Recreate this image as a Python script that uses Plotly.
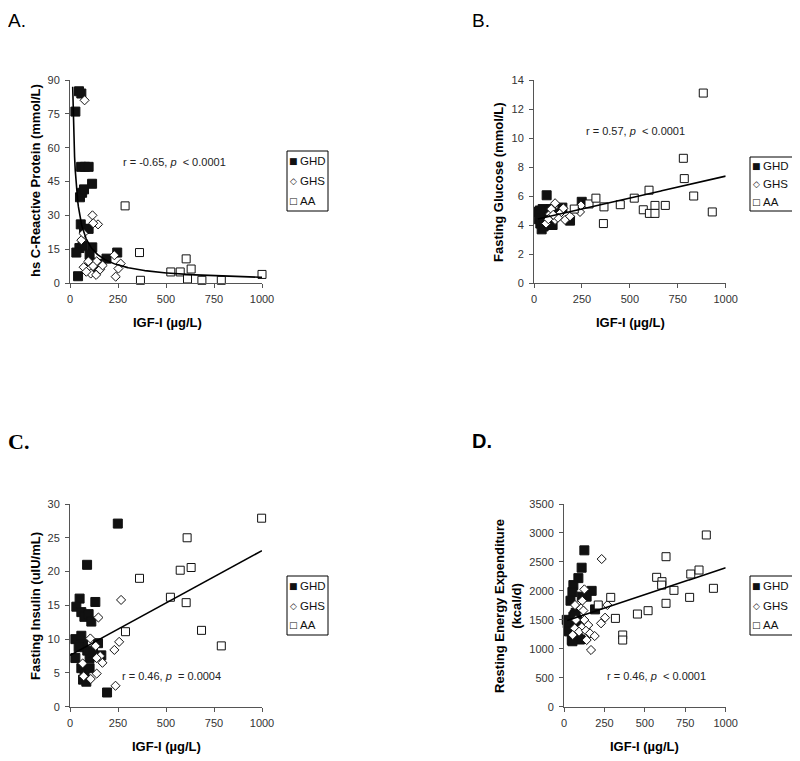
import numpy as np
import plotly.graph_objects as go

W, H = 800, 761
OFF = 8  # page body margin in the browser

# ---------------- Data ----------------
# Panel A: hs C-Reactive Protein vs IGF-I
ghd_a_x = [47, 59, 28, 58, 78, 97, 115, 52, 63, 73, 56, 73, 97, 49, 66, 116, 33, 246, 102, 190, 108, 155, 42, 125]
ghd_a_y = [85, 84, 76, 51.5, 51.5, 51.5, 44, 38, 40, 41.5, 26, 24, 24, 15.5, 16.5, 15.8, 13.5, 13.5, 12.5, 10.8, 9, 8.5, 3, 6]
ghs_a_x = [76, 117, 146, 121, 59, 70, 231, 264, 252, 238, 71, 96, 104, 108, 136, 139, 157, 170, 85, 120]
ghs_a_y = [81, 30, 26, 26.5, 19, 22, 12.3, 8.6, 6.4, 2.8, 7, 9.6, 6.4, 4.2, 3.6, 9.6, 6, 7.8, 5, 7.5]
aa_a_x = [287, 362, 367, 525, 574, 605, 631, 612, 687, 788, 1000]
aa_a_y = [34.2, 13.5, 1.2, 4.9, 4.9, 10.7, 6.2, 1.8, 1.2, 1.2, 3.8]
fit_a = {"a": 778.0, "b": -0.83, "xmin": 14, "xmax": 1000}   # power trend y = a*x^b

# Panel B: Fasting Glucose vs IGF-I
ghd_b_x = [22, 25, 30, 33, 38, 40, 45, 48, 50, 55, 58, 62, 66, 70, 75, 80, 85, 90, 97, 100, 110, 148, 188, 249]
ghd_b_y = [4.9, 4.4, 5.0, 4.1, 4.7, 3.7, 5.1, 4.3, 3.9, 4.8, 4.0, 5.0, 6.05, 4.5, 4.2, 4.9, 4.4, 5.1, 4.0, 4.6, 4.8, 5.2, 4.3, 5.6]
ghs_b_x = [63, 83, 90, 110, 110, 136, 153, 162, 188, 240, 245, 125, 75, 100]
ghs_b_y = [4.1, 4.75, 5.1, 5.5, 4.35, 4.8, 5.15, 4.35, 4.6, 4.9, 5.35, 4.5, 4.4, 4.7]
aa_b_x = [210, 287, 323, 362, 365, 450, 523, 570, 600, 602, 631, 631, 685, 779, 784, 833, 883, 930]
aa_b_y = [5.1, 5.45, 5.85, 4.1, 5.25, 5.4, 5.85, 5.05, 6.4, 4.8, 5.35, 4.8, 5.35, 8.6, 7.2, 6.0, 13.1, 4.9]
fit_b = {"intercept": 4.35, "slope": 0.00302, "xmin": 20, "xmax": 1000}

# Panel C: Fasting Insulin vs IGF-I
ghd_c_x = [249, 89, 50, 33, 132, 59, 75, 97, 111, 28, 59, 68, 146, 28, 102, 163, 59, 76, 68, 85, 102, 193, 90, 45, 120]
ghd_c_y = [27.1, 21.0, 16.0, 14.8, 15.5, 14.0, 13.3, 13.7, 12.6, 10.0, 10.5, 9.2, 9.4, 7.2, 7.2, 7.6, 5.7, 4.9, 4.0, 3.7, 5.7, 2.1, 8.3, 8.8, 8.0]
ghs_c_x = [266, 148, 106, 134, 157, 139, 169, 66, 139, 71, 108, 237, 231, 256]
ghs_c_y = [15.8, 13.2, 10.1, 9.0, 7.5, 7.2, 6.5, 6.4, 4.9, 4.5, 4.1, 3.1, 8.4, 9.6]
aa_c_x = [998, 610, 631, 574, 362, 523, 605, 289, 685, 788]
aa_c_y = [27.9, 25.0, 20.6, 20.2, 19.0, 16.2, 15.4, 11.1, 11.3, 9.0]
fit_c = {"intercept": 7.6, "slope": 0.0155, "xmin": 0, "xmax": 1000}

# Panel D: Resting Energy Expenditure vs IGF-I
ghd_d_x = [126, 109, 89, 58, 52, 171, 140, 40, 192, 17, 37, 27, 68, 58, 48, 88, 72, 110, 23, 80, 99, 31, 65, 52]
ghd_d_y = [2700, 2400, 2220, 2100, 1980, 2000, 1900, 1830, 1680, 1500, 1410, 1325, 1470, 1554, 1150, 1180, 1620, 1900, 1440, 1500, 1160, 1300, 1580, 1130]
ghs_d_x = [233, 126, 113, 105, 120, 68, 126, 74, 150, 109, 66, 93, 136, 161, 54, 190, 140, 167, 229, 254, 268]
ghs_d_y = [2550, 2026, 1830, 1698, 1660, 1756, 1497, 1497, 1410, 1370, 1353, 1295, 1312, 1266, 1238, 1220, 1151, 979, 1440, 1537, 1756]
aa_d_x = [880, 631, 573, 606, 604, 680, 784, 835, 924, 777, 631, 520, 454, 318, 363, 363, 289, 212]
aa_d_y = [2965, 2590, 2234, 2159, 2100, 2009, 2291, 2360, 2044, 1888, 1785, 1658, 1600, 1525, 1238, 1151, 1888, 1756]
fit_d = {"intercept": 1470, "slope": 0.93, "xmin": 20, "xmax": 1000}

groups = ["GHD", "GHS", "AA"]
legend_glyphs = ["\u25A0", "\u25C7", "\u25A1"]
x_ticks = [0, 250, 500, 750, 1000]

# ---------------- Helpers ----------------
def px(x):
    return (x - OFF) / W

def py(y):
    return 1 - (y - OFF) / H

SANS = "Liberation Sans, Arial, sans-serif"
AX_COL = "#555555"

marker_styles = {
    "GHD": dict(symbol="square", size=9, color="#111111", line=dict(color="#111111", width=1)),
    "GHS": dict(symbol="diamond", size=7, color="white", line=dict(color="#111111", width=1)),
    "AA": dict(symbol="square", size=8, color="white", line=dict(color="#111111", width=1)),
}

fig = go.Figure()

panels = [
    # suffix, data, fit, fit type, y range, dtick, x-domain px, y-domain px, legend box px (x0, x1, y0, y1)
    ("", (ghd_a_x, ghd_a_y, ghs_a_x, ghs_a_y, aa_a_x, aa_a_y), fit_a, "power", [0, 90], 15, (70, 262), (80, 283), (287, 328, 151, 211)),
    ("2", (ghd_b_x, ghd_b_y, ghs_b_x, ghs_b_y, aa_b_x, aa_b_y), fit_b, "linear", [0, 14], 2, (534, 725.7), (80, 283), (750, 793, 157, 211)),
    ("3", (ghd_c_x, ghd_c_y, ghs_c_x, ghs_c_y, aa_c_x, aa_c_y), fit_c, "linear", [0, 30], 5, (70, 262), (504, 706.7), (287, 328, 576, 635)),
    ("4", (ghd_d_x, ghd_d_y, ghs_d_x, ghs_d_y, aa_d_x, aa_d_y), fit_d, "linear", [0, 3500], 500, (564, 725.7), (504, 706.7), (750, 793, 576, 635)),
]

layout_axes = {}
shapes = []
ann = []
for suf, data, fit, ftype, yr, dt, dx, dy, lb in panels:
    xa = "x" + suf
    ya = "y" + suf
    gx = [data[0], data[2], data[4]]
    gy = [data[1], data[3], data[5]]
    for g, xs, ys in zip(groups, gx, gy):
        fig.add_trace(go.Scatter(
            x=xs, y=ys, mode="markers", name=g, marker=marker_styles[g],
            xaxis=xa, yaxis=ya, showlegend=False, cliponaxis=False,
            hoverinfo="x+y+name",
        ))
    xf = np.linspace(fit["xmin"], fit["xmax"], 300)
    if ftype == "power":
        yf = fit["a"] * xf ** fit["b"]
    else:
        yf = fit["intercept"] + fit["slope"] * xf
    fig.add_trace(go.Scatter(
        x=xf, y=yf, mode="lines", line=dict(color="black", width=1.6),
        xaxis=xa, yaxis=ya, showlegend=False, hoverinfo="skip", cliponaxis=False,
    ))
    common = dict(
        showgrid=False, zeroline=False, showline=True, linecolor=AX_COL, linewidth=1,
        ticks="outside", ticklen=4, tickcolor=AX_COL, tickwidth=1,
        tickfont=dict(family=SANS, size=11, color="#333333"),
    )
    layout_axes["xaxis" + suf] = dict(
        common, domain=[px(dx[0]), px(dx[1])], range=[0, 1000], tickvals=x_ticks,
        anchor=ya, fixedrange=True, ticklabelstandoff=2,
    )
    layout_axes["yaxis" + suf] = dict(
        common, domain=[py(dy[1]), py(dy[0])], range=yr, dtick=dt, tick0=0,
        anchor=xa, fixedrange=True, ticklabelstandoff=3,
    )
    # legend box (drawn like the original Excel legend)
    x0, x1, y0, y1 = lb
    shapes.append(dict(type="rect", xref="paper", yref="paper",
                       x0=px(x0), x1=px(x1), y0=py(y1), y1=py(y0),
                       line=dict(color="black", width=1), fillcolor="white", layer="above"))
    step = (y1 - y0) / 3.0
    for i, (g, glyph) in enumerate(zip(groups, legend_glyphs)):
        yc = y0 + step * (i + 0.5)
        ann.append(dict(text=glyph, x=px(x0 + 6), y=py(yc), xanchor="center",
                        font=dict(family="DejaVu Sans", size=9, color="#111111")))
        ann.append(dict(text=g, x=px(x0 + 11), y=py(yc), xanchor="left",
                        font=dict(family=SANS, size=11.5, color="#111111")))

fig.update_layout(**layout_axes)

title_font = dict(family=SANS, size=13, color="black")
# y-axis titles
ann.append(dict(text="<b>hs C-Reactive Protein (mmol/L)</b>", x=px(35), y=py(181), textangle=-90, font=title_font))
ann.append(dict(text="<b>Fasting Glucose (mmol/L)</b>", x=px(498), y=py(182), textangle=-90, font=title_font))
ann.append(dict(text="<b>Fasting Insulin (uIU/mL)</b>", x=px(35), y=py(606), textangle=-90, font=title_font))
ann.append(dict(text="<b>Resting Energy Expenditure<br>(kcal/d)</b>", x=px(508), y=py(606), textangle=-90, font=title_font))
# x-axis titles
for cx, cy in [(167, 322), (630, 322), (166, 746), (644, 746)]:
    ann.append(dict(text="<b>IGF-I (µg/L)</b>", x=px(cx), y=py(cy), font=title_font))
# statistics
stat_font = dict(family=SANS, size=11, color="#222222")
ann.append(dict(text="r = -0.65, <i>p</i>  < 0.0001", x=px(174), y=py(162), font=stat_font))
ann.append(dict(text="r = 0.57, <i>p</i>  < 0.0001", x=px(635), y=py(131), font=stat_font))
ann.append(dict(text="r = 0.46, <i>p</i>  = 0.0004", x=px(171), y=py(676), font=stat_font))
ann.append(dict(text="r = 0.46, <i>p</i>  < 0.0001", x=px(656), y=py(676), font=stat_font))
# panel letters
ann.append(dict(text="A.", x=px(6), y=py(21), xanchor="left", font=dict(family=SANS, size=19, color="black")))
ann.append(dict(text="B.", x=px(470), y=py(21), xanchor="left", font=dict(family=SANS, size=19, color="black")))
ann.append(dict(text="<b>C.</b>", x=px(6), y=py(441), xanchor="left", font=dict(family="Liberation Serif, Times New Roman, serif", size=22, color="black")))
ann.append(dict(text="<b>D.</b>", x=px(470), y=py(441), xanchor="left", font=dict(family=SANS, size=20, color="black")))

for a in ann:
    a.setdefault("xanchor", "center")
    a.update(xref="paper", yref="paper", showarrow=False, yanchor="middle")

fig.update_layout(
    annotations=ann,
    shapes=shapes,
    showlegend=False,
    width=W, height=H,
    margin=dict(l=0, r=0, t=0, b=0, pad=0, autoexpand=False),
    paper_bgcolor="white", plot_bgcolor="white",
    font=dict(family=SANS),
)

fig.write_html("out.html")
